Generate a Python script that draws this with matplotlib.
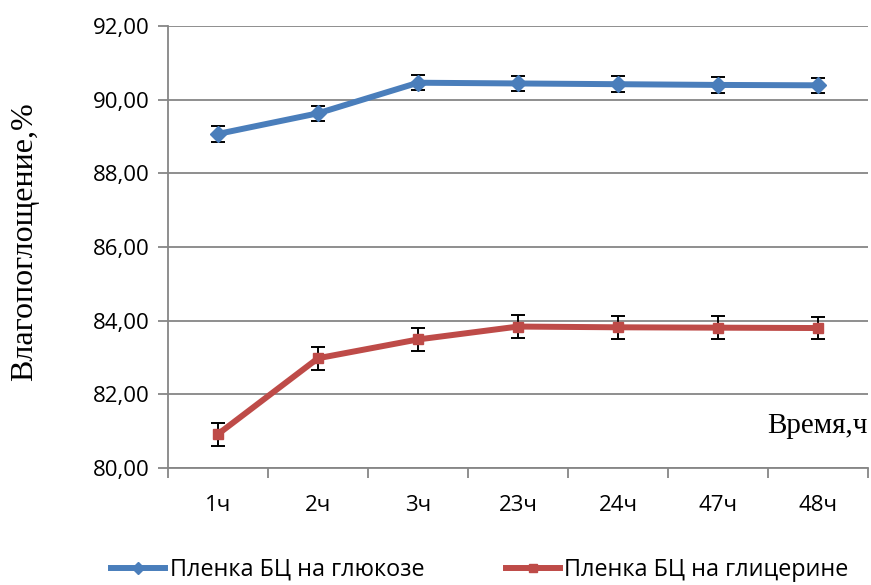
import matplotlib
matplotlib.use("Agg")
import matplotlib.pyplot as plt
from matplotlib.lines import Line2D
from matplotlib.ticker import FixedLocator

# data
categories = ["1ч", "2ч", "3ч", "23ч", "24ч", "47ч", "48ч"]
glucose = [89.07, 89.63, 90.46, 90.44, 90.42, 90.40, 90.39]
glucose_err = [0.21, 0.21, 0.21, 0.21, 0.21, 0.21, 0.21]
glycerin = [80.92, 82.98, 83.49, 83.84, 83.82, 83.81, 83.80]
glycerin_err = [0.31, 0.31, 0.31, 0.31, 0.31, 0.31, 0.31]
series_names = ["Пленка БЦ на глюкозе", "Пленка БЦ на глицерине"]

blue = "#4A7EBB"
red = "#BE4B48"
grey = "#868686"

plt.rcParams["font.family"] = ["Open Sans", "DejaVu Sans"]

fig = plt.figure(figsize=(8.71, 5.85), dpi=100)
ax = fig.add_axes([168 / 871, 117 / 585, 700 / 871, 442 / 585])

x = list(range(len(categories)))

ax.errorbar(x, glucose, yerr=glucose_err, color=blue, lw=4.3, marker="D", ms=8,
            ecolor="black", elinewidth=1.4, capsize=5, capthick=1.4, zorder=3)
ax.errorbar(x, glycerin, yerr=glycerin_err, color=red, lw=4.3, marker="s", ms=7.5,
            ecolor="black", elinewidth=1.4, capsize=5, capthick=1.4, zorder=3)

ax.set_xlim(-0.5, len(categories) - 0.5)
ax.set_ylim(80, 92)
ax.set_yticks([80, 82, 84, 86, 88, 90, 92])
ax.set_yticklabels([f"{v:.2f}".replace(".", ",") for v in range(80, 93, 2)])
ax.yaxis.grid(True, color=grey, lw=1.3)
ax.set_axisbelow(True)

# category labels in the middle, tick marks between categories
ax.xaxis.set_major_locator(FixedLocator([i - 0.5 for i in range(len(categories) + 1)]))
ax.set_xticklabels([""] * (len(categories) + 1))
ax.xaxis.set_minor_locator(FixedLocator(x))
ax.set_xticklabels(categories, minor=True)
ax.tick_params(axis="x", which="major", direction="out", length=7, width=1.3, color=grey)
ax.tick_params(axis="x", which="minor", length=0, pad=19.5, labelsize=16)
ax.tick_params(axis="y", direction="out", length=7, width=1.3, color=grey, labelsize=16, pad=6)

for side in ["top", "right"]:
    ax.spines[side].set_visible(False)
for side in ["left", "bottom"]:
    ax.spines[side].set_color(grey)
    ax.spines[side].set_linewidth(1.3)

fig.text(25 / 871, 1 - 242 / 585, "Влагопоглощение,%", rotation=90, ha="center",
         va="center", family="Liberation Serif", fontsize=23)
fig.text(868 / 871, 1 - 426 / 585, "Время,ч", ha="right", va="center",
         family="Liberation Serif", fontsize=21)

# legend without the error bar caps
handles = [Line2D([], [], color=blue, lw=4.3, marker="D", ms=6),
           Line2D([], [], color=red, lw=4.3, marker="s", ms=6)]
fig.legend(handles, series_names, loc="center", bbox_to_anchor=(0.551, 0.026), ncol=2,
           frameon=False, fontsize=16.8, handlelength=2.3, handletextpad=0.2,
           columnspacing=3.5, borderpad=0)

fig.savefig("out.png", dpi=100)
